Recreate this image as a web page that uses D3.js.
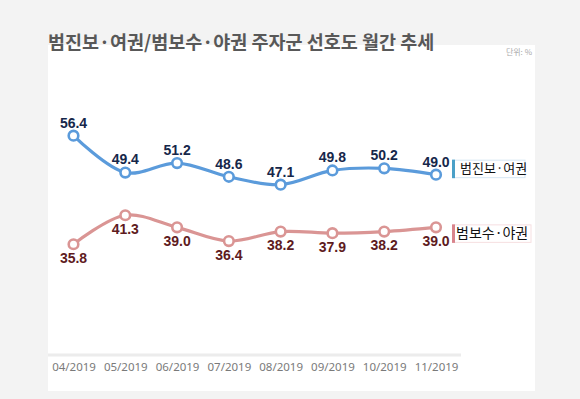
<!DOCTYPE html>
<html>
<head>
<meta charset="utf-8">
<script src="https://cdn.jsdelivr.net/npm/d3@7/dist/d3.min.js"></script>
<style>
  body { margin: 0; background: #f3f3f3; }
  svg { display: block; }
</style>
</head>
<body>
<div id="chart"></div>
<script>
// chart data
var months = ["04/2019", "05/2019", "06/2019", "07/2019", "08/2019", "09/2019", "10/2019", "11/2019"];
var progressive = [56.4, 49.4, 51.2, 48.6, 47.1, 49.8, 50.2, 49.0];
var conservative = [35.8, 41.3, 39.0, 36.4, 38.2, 37.9, 38.2, 39.0];
var seriesNames = ["범진보·여권", "범보수·야권"];
var title = "범진보·여권/범보수·야권 주자군 선호도 월간 추세";
var unitLabel = "단위: %";

var width = 580, height = 399;

var svg = d3.select("#chart").append("svg")
    .attr("width", width)
    .attr("height", height);

// page background + white panel
svg.append("rect").attr("width", width).attr("height", height).attr("fill", "#f3f3f3");
svg.append("rect")
    .attr("x", 48).attr("y", 45)
    .attr("width", 487).attr("height", 346)
    .attr("fill", "#fff");

// scales
var x = d3.scalePoint().domain(months).range([73.5, 436]);
var y = d3.scaleLinear().domain([30, 60]).range([274.8, 116.7]);

// axis band
svg.append("rect")
    .attr("x", 48).attr("y", 353.5)
    .attr("width", 413).attr("height", 3)
    .attr("fill", "#ececec");

var xAxis = d3.axisBottom(x).tickSize(0).tickPadding(0);
var gx = svg.append("g")
    .attr("transform", "translate(0,367)")
    .call(xAxis);
gx.select(".domain").remove();
gx.selectAll("text")
    .attr("dy", "0.35em")
    .attr("fill", "#7a7a7a")
    .style("font-family", "'Noto Sans', 'Open Sans', sans-serif")
    .style("font-size", "11.5px");

var line = d3.line()
    .x(function(d, i) { return x(months[i]); })
    .y(function(d) { return y(d); })
    .curve(d3.curveCatmullRom.alpha(0.5));

var series = [
  { name: seriesNames[0], values: progressive, color: "#5b9bdb", text: "#16274a", above: true,
    bar: "#4aa0c8", border: "#d5e6f3", boxW: 72, fs: "13px", off: -6 },
  { name: seriesNames[1], values: conservative, color: "#da9594", text: "#5e1b1e", above: false,
    bar: "#d9848c", border: "#f6dfe1", boxW: 78, fs: "14px", off: 6 }
];

series.forEach(function(s) {
  svg.append("path")
      .attr("d", line(s.values))
      .attr("fill", "none")
      .attr("stroke", s.color)
      .attr("stroke-width", 3.2);

  svg.selectAll(null)
      .data(s.values)
      .enter().append("circle")
      .attr("cx", function(d, i) { return x(months[i]); })
      .attr("cy", function(d) { return y(d); })
      .attr("r", 4.8)
      .attr("fill", "#fff")
      .attr("stroke", s.color)
      .attr("stroke-width", 2.6);

  svg.selectAll(null)
      .data(s.values)
      .enter().append("text")
      .attr("x", function(d, i) { return x(months[i]); })
      .attr("y", function(d) { return y(d) + (s.above ? -13 : 14); })
      .attr("dy", "0.35em")
      .attr("text-anchor", "middle")
      .attr("fill", s.text)
      .style("font-family", "'Liberation Sans', Arial, sans-serif")
      .style("font-weight", "bold")
      .style("font-size", "14px")
      .text(function(d) { return d.toFixed(1); });
});

// legend labels at the end of each line
series.forEach(function(s) {
  var last = s.values[s.values.length - 1];
  var cy = y(last) + s.off;
  var g = svg.append("g").attr("transform", "translate(452," + cy + ")");
  g.append("rect")
      .attr("x", 1).attr("y", -8.5)
      .attr("width", s.boxW).attr("height", 17.5)
      .attr("fill", "#fff")
      .attr("stroke", s.border)
      .attr("stroke-width", 1);
  g.append("rect")
      .attr("x", 0).attr("y", -9)
      .attr("width", 3).attr("height", 18.5)
      .attr("fill", s.bar);
  g.append("text")
      .attr("x", s.above ? 8 : 4).attr("y", 0)
      .attr("dy", "0.36em")
      .attr("fill", "#111")
      .style("font-family", "'Noto Sans CJK KR', sans-serif")
      .style("font-size", s.fs)
      .text(s.name);
});

// title and unit
svg.append("text")
    .attr("x", 48).attr("y", 49)
    .attr("fill", "#585858")
    .style("font-family", "'Noto Sans CJK KR', sans-serif")
    .style("font-weight", "bold")
    .style("font-size", "18.5px")
    .text(title);

svg.append("text")
    .attr("x", 532).attr("y", 55)
    .attr("text-anchor", "end")
    .attr("fill", "#aaa")
    .style("font-family", "'Noto Sans CJK KR', sans-serif")
    .style("font-size", "8px")
    .text(unitLabel);
</script>
</body>
</html>
